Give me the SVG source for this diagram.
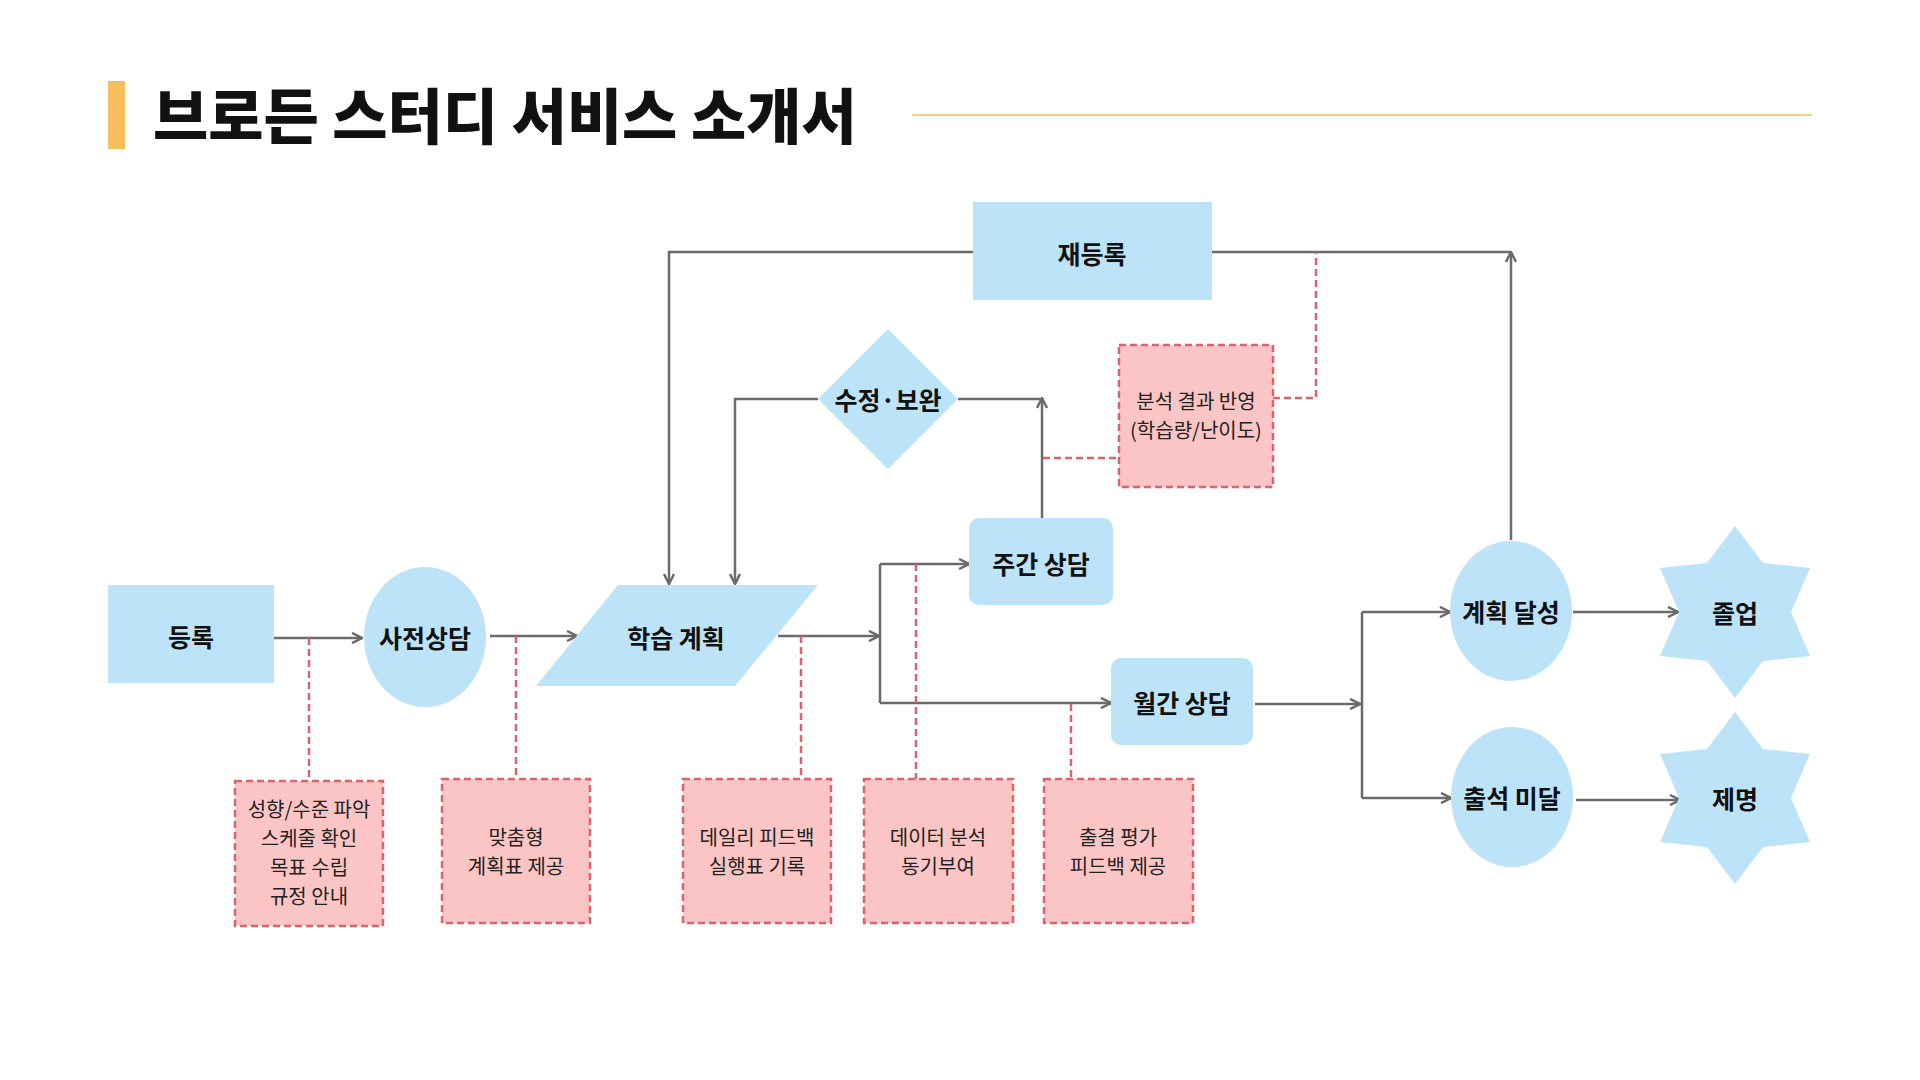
<svg xmlns="http://www.w3.org/2000/svg" width="1920" height="1080" viewBox="0 0 1920 1080">
<defs>
<style>
.n{fill:#bde3f8;stroke:none}
.p{fill:#fcc5c5;stroke:#d9646e;stroke-width:2.5;stroke-dasharray:7 4}
.c{fill:none;stroke:#6b6b6b;stroke-width:2.5}
.d{fill:none;stroke:#d9646e;stroke-width:2.5;stroke-dasharray:7 4}
.t{font-family:"Noto Sans CJK KR",sans-serif;font-weight:700;font-size:25px;fill:#111;text-anchor:middle;dominant-baseline:central}
.s{font-family:"Noto Sans CJK KR",sans-serif;font-size:20px;fill:#222;text-anchor:middle}
</style>
<marker id="a" viewBox="0 0 10 10" refX="9" refY="5" markerWidth="5" markerHeight="5" orient="auto"><path d="M1,1 L9,5 L1,9" fill="none" stroke="#6b6b6b" stroke-width="2"/></marker>
</defs>
<rect width="1920" height="1080" fill="#fff"/>
<rect x="108" y="81" width="17" height="68" fill="#f8bd5c"/>
<text x="153" y="139" font-family="'Noto Sans CJK KR',sans-serif" font-weight="900" font-size="60" fill="#111">브로든 스터디 서비스 소개서</text>
<line x1="912" y1="115" x2="1812" y2="115" stroke="#f5cc80" stroke-width="2"/>

<g id="connectors">
<path class="c" d="M274,638 H362" marker-end="url(#a)"/>
<path class="c" d="M490,636 H577" marker-end="url(#a)"/>
<path class="c" d="M778,636 H879" marker-end="url(#a)"/>
<path class="c" d="M880,564 V703"/>
<path class="c" d="M880,564 H969" marker-end="url(#a)"/>
<path class="c" d="M880,703 H1111" marker-end="url(#a)"/>
<path class="c" d="M1255,704 H1360" marker-end="url(#a)"/>
<path class="c" d="M1362,612 V798"/>
<path class="c" d="M1362,612 H1450" marker-end="url(#a)"/>
<path class="c" d="M1362,798 H1451" marker-end="url(#a)"/>
<path class="c" d="M1573,612 H1678" marker-end="url(#a)"/>
<path class="c" d="M1576,800 H1680" marker-end="url(#a)"/>
<path class="c" d="M1511,540 V252" marker-end="url(#a)"/>
<path class="c" d="M1212,252 H1511"/>
<path class="c" d="M973,252 H669 V584" marker-end="url(#a)"/>
<path class="c" d="M1042,518 V398" marker-end="url(#a)"/>
<path class="c" d="M958,399 H1042"/>
<path class="c" d="M818,399 H735 V584" marker-end="url(#a)"/>
<path class="d" d="M309,638 V781"/>
<path class="d" d="M516,636 V779"/>
<path class="d" d="M801,636 V779"/>
<path class="d" d="M916,564 V779"/>
<path class="d" d="M1071,704 V779"/>
<path class="d" d="M1043,458 H1119"/>
<path class="d" d="M1273,398 H1316 V252"/>
</g>

<g id="n1"><rect class="n" x="108" y="585" width="166" height="98"/><text class="t" x="191" y="636">등록</text></g>
<g id="n2"><ellipse class="n" cx="425" cy="637" rx="61" ry="70"/><text class="t" x="425" y="637">사전상담</text></g>
<g id="n3"><polygon class="n" points="536,686 618,585 818,585 735,686"/><text class="t" x="676" y="637">학습 계획</text></g>
<g id="n4"><rect class="n" x="973" y="202" width="239" height="98"/><text class="t" x="1092" y="253">재등록</text></g>
<g id="n5"><polygon class="n" points="888,329 958,399 888,469 818,399"/><text class="t" x="888" y="399">수정·보완</text></g>
<g id="n6"><rect class="p" x="1119" y="345" width="154" height="142"/><text class="s" x="1196" y="409">분석 결과 반영</text><text class="s" x="1196" y="438">(학습량/난이도)</text></g>
<g id="n7"><rect class="n" x="969" y="518" width="144" height="87" rx="10"/><text class="t" x="1041" y="563">주간 상담</text></g>
<g id="n8"><rect class="n" x="1111" y="658" width="142" height="87" rx="10"/><text class="t" x="1182" y="702">월간 상담</text></g>
<g id="n9"><ellipse class="n" cx="1511" cy="611" rx="61" ry="70"/><text class="t" x="1511" y="611">계획 달성</text></g>
<g id="n10"><ellipse class="n" cx="1512" cy="797" rx="61" ry="70"/><text class="t" x="1512" y="797">출석 미달</text></g>
<g id="n11"><polygon class="n" points="1735,526 1763,563 1810,568 1791,612 1810,656 1763,661 1735,698 1707,661 1660,656 1679,612 1660,568 1707,563"/><text class="t" x="1735" y="612">졸업</text></g>
<g id="n12"><polygon class="n" points="1735,712 1763,749 1810,754 1791,798 1810,842 1763,847 1735,884 1707,847 1660,842 1679,798 1660,754 1707,749"/><text class="t" x="1735" y="798">제명</text></g>
<g id="b1"><rect class="p" x="235" y="781" width="148" height="145"/><text class="s" x="309" y="817">성향/수준 파악</text><text class="s" x="309" y="846">스케줄 확인</text><text class="s" x="309" y="875">목표 수립</text><text class="s" x="309" y="904">규정 안내</text></g>
<g id="b2"><rect class="p" x="442" y="779" width="148" height="144"/><text class="s" x="516" y="845">맞춤형</text><text class="s" x="516" y="874">계획표 제공</text></g>
<g id="b3"><rect class="p" x="683" y="779" width="148" height="144"/><text class="s" x="757" y="845">데일리 피드백</text><text class="s" x="757" y="874">실행표 기록</text></g>
<g id="b4"><rect class="p" x="864" y="779" width="149" height="144"/><text class="s" x="938" y="845">데이터 분석</text><text class="s" x="938" y="874">동기부여</text></g>
<g id="b5"><rect class="p" x="1044" y="779" width="149" height="144"/><text class="s" x="1118" y="845">출결 평가</text><text class="s" x="1118" y="874">피드백 제공</text></g>
</svg>
